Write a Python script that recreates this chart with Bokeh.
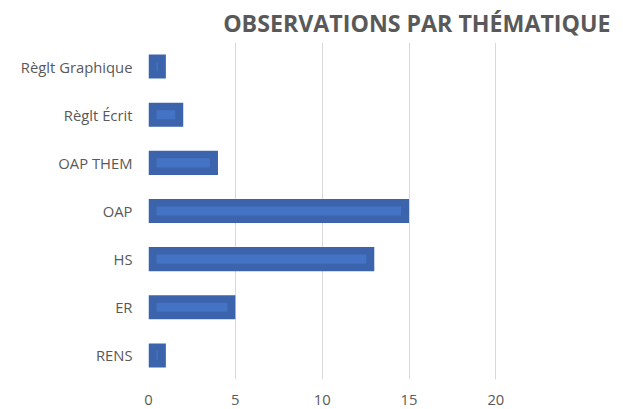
from bokeh.plotting import figure
from bokeh.models import ColumnDataSource, FixedTicker, Range1d, FactorRange, Title
from bokeh.embed import file_html
from bokeh.resources import INLINE

categories = ["Règlt Graphique", "Règlt Écrit", "OAP THEM", "OAP", "HS", "ER", "RENS"]
values = [1, 2, 4, 15, 13, 5, 1]
x_ticks = [0, 5, 10, 15, 20]
title_text = "OBSERVATIONS PAR THÉMATIQUE"

cats_bottom_up = categories[::-1]
vals_bottom_up = values[::-1]

inset = 0.46
src = ColumnDataSource(dict(
    cat=cats_bottom_up,
    val=vals_bottom_up,
    inner_left=[inset if v > 2 * inset else v / 2 - 0.03 for v in vals_bottom_up],
    inner_right=[v - inset if v > 2 * inset else v / 2 + 0.03 for v in vals_bottom_up],
))

p = figure(width=615, height=407, output_backend="svg", toolbar_location=None,
           y_range=FactorRange(*cats_bottom_up, range_padding=0),
           x_range=Range1d(0, 26.6),
           min_border_left=148, min_border_right=5, min_border_top=0, min_border_bottom=0)
p.title = Title(text=title_text, align="right", text_font="Open Sans",
                text_font_size="23.2px", text_font_style="bold", text_color="#595959",
                standoff=8, offset=0)

p.hbar(y="cat", left=0, right="val", height=0.5, source=src,
       fill_color="#3B64AD", line_color=None)
p.hbar(y="cat", left="inner_left", right="inner_right", height=0.19, source=src,
       fill_color="#4472C4", line_color=None)

p.outline_line_color = None
p.background_fill_color = "white"
p.border_fill_color = "white"

for ax in (p.xaxis, p.yaxis):
    ax.axis_line_color = None
    ax.major_tick_line_color = None
    ax.minor_tick_line_color = None
    ax.major_tick_out = 0
    ax.major_tick_in = 0
    ax.minor_tick_out = 0
    ax.minor_tick_in = 0
    ax.major_label_text_font = "Open Sans"
    ax.major_label_text_font_size = "14.8px"
    ax.major_label_text_color = "#595959"

p.xaxis.ticker = FixedTicker(ticks=x_ticks)
p.xaxis.major_label_standoff = 15
p.xaxis.major_label_text_line_height = 0.9
p.yaxis.major_label_standoff = 16

p.xgrid.grid_line_color = "#D9D9D9"
p.xgrid.grid_line_width = 1
p.ygrid.grid_line_color = None

open("out.html", "w").write(file_html(p, INLINE))
